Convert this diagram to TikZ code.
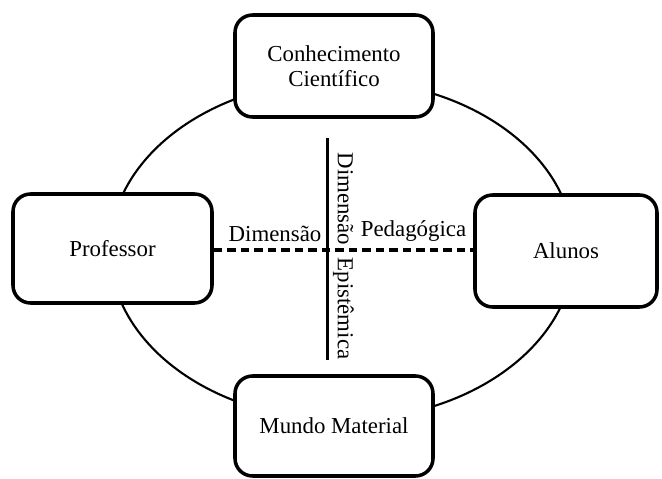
\documentclass[tikz,border=0pt]{standalone}
\usepackage{fontspec}
\setmainfont{Liberation Serif}
\tikzset{>=stealth}
\tikzset{caixa/.style={draw, line width=2pt, rounded corners=10pt, fill=white, align=center, inner sep=0pt}}

\begin{document}
\begin{tikzpicture}[font=\fontsize{13}{14.5}\selectfont]
\useasboundingbox (0,0) rectangle (13.24,9.58);
\draw[line width=1.2pt] (6.84,4.58) ellipse [x radius=4.64, y radius=3.40];
\node[caixa, minimum width=3.96cm, minimum height=2.04cm] (conhec) at (6.68,8.26) {Conhecimento\\Científico};
\node[caixa, minimum width=3.98cm, minimum height=2.18cm] (prof) at (2.25,4.61) {Professor};
\node[caixa, minimum width=3.64cm, minimum height=2.24cm] (alunos) at (11.32,4.56) {Alunos};
\node[caixa, minimum width=3.96cm, minimum height=2.00cm] (mundo) at (6.68,1.06) {Mundo Material};
\coordinate (epitop) at (6.55,6.82);
\coordinate (epibot) at (6.55,2.38);
\draw[line width=1.2pt] (epitop) -- (epibot);
\draw[line width=1.8pt, dash pattern=on 0.17cm off 0.1cm] (prof.east |- 0,4.58) -- (alunos.west |- 0,4.58);
\node[anchor=south] (dim) at (5.5,4.62) {Dimensão};
\node[anchor=south] (ped) at (8.27,4.62) {Pedagógica};
\node[rotate=-90] (epi) at (6.87,4.46) {Dimensão\hspace{0.55em}Epistêmica};
\end{tikzpicture}
\end{document}
